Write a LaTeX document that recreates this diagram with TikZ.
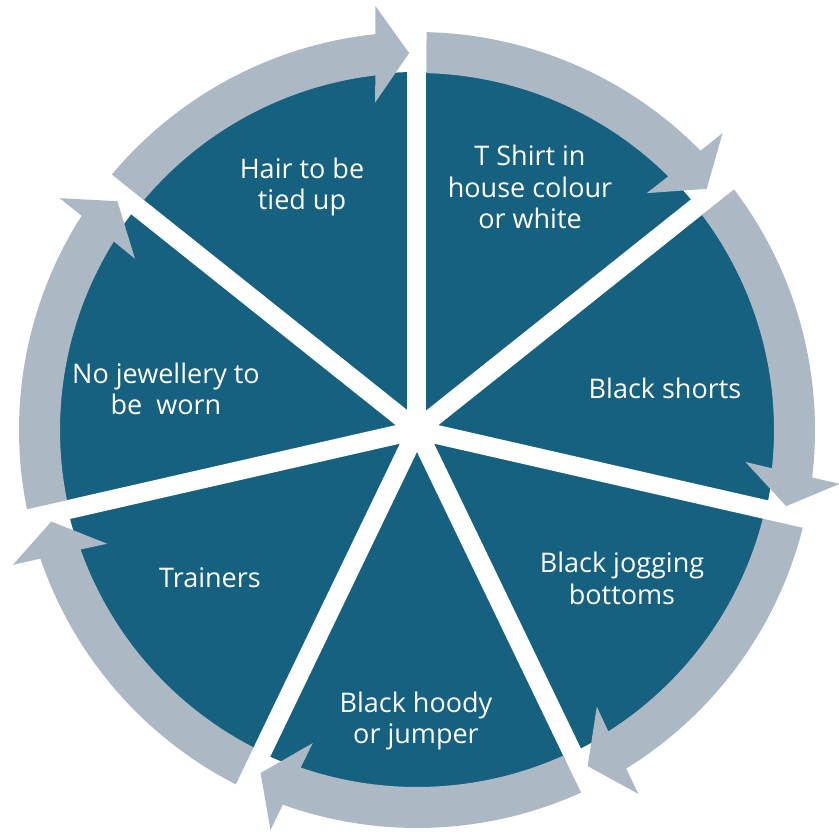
\documentclass[tikz,border=0pt]{standalone}
\usepackage{fontspec}
\setmainfont{Open Sans}
\definecolor{segblue}{HTML}{166080}
\definecolor{arrgray}{HTML}{ACB8C4}
\tikzset{
  seglabel/.style={text=white, align=center, font=\fontsize{27}{31.5}\selectfont, inner sep=0pt},
  gapline/.style={white, line width=19pt},
  bandfill/.style={fill=arrgray}
}
\begin{document}
\begin{tikzpicture}[x=1pt,y=1pt]
\useasboundingbox (-417,-408) rectangle (421,430);
% pie
\fill[segblue] (0,0) circle[radius=358];
\foreach \k in {0,...,6}{
  \pgfmathsetmacro{\d}{90-\k*360/7}
  \draw[gapline] (0,0) -- (\d:362);
}
% arrows
\foreach \k in {0,...,6}{
  \pgfmathsetmacro{\d}{90-\k*360/7}
  \pgfmathsetmacro{\so}{\d-1.37}
  \pgfmathsetmacro{\si}{\d-1.52}
  \pgfmathsetmacro{\ph}{\d-360/7+1.2}
  \pgfmathsetmacro{\eo}{\ph+4.8}
  \pgfmathsetmacro{\ei}{\ph+5.5}
  \pgfmathsetmacro{\bo}{\ph+4.4}
  \pgfmathsetmacro{\bi}{\ph+6.1}
  \fill[bandfill] (\so:398) arc[start angle=\so, end angle=\eo, radius=398]
     -- (\bo:426) -- (\ph:377) -- (\bi:330) -- (\ei:357)
     arc[start angle=\ei, end angle=\si, radius=357] -- cycle;
}
% labels
\node[seglabel] (tshirt) at (113,243) {T Shirt in\\house colour\\or white};
\node[seglabel] (shorts) at (248,42) {Black shorts};
\node[seglabel] (jogging) at (205,-148.5) {Black jogging\\bottoms};
\node[seglabel] (hoody) at (-1,-291) {Black hoody\\or jumper};
\node[seglabel] (trainers) at (-207,-148) {Trainers};
\node[seglabel] (jewel) at (-251,41) {No jewellery to\\be\ \ worn};
\node[seglabel] (hair) at (-115,243) {Hair to be\\tied up};
\end{tikzpicture}
\end{document}
